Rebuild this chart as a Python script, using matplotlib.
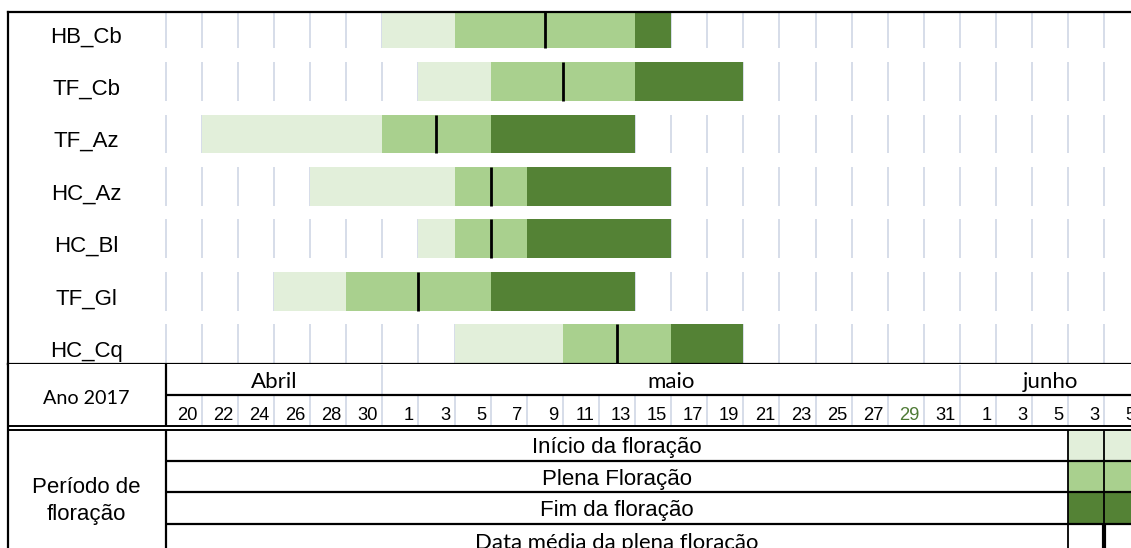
import numpy as np
import matplotlib.pyplot as plt
from matplotlib.transforms import blended_transform_factory

# flowering periods, in days counted from 20 April 2017 (one table column = 2 days)
locais = ['HB_Cb', 'TF_Cb', 'TF_Az', 'HC_Az', 'HC_Bl', 'TF_Gl', 'HC_Cq']
inicio = [12, 14, 2, 8, 14, 6, 16]      # início da floração
plena = [16, 18, 12, 16, 16, 10, 22]    # plena floração
fim = [26, 26, 18, 20, 20, 18, 28]      # fim da floração
termo = [28, 32, 26, 28, 28, 26, 32]    # last day
media = [21, 22, 15, 18, 18, 14, 25]    # data média da plena floração

meses = ['Abril', 'maio', 'junho']
abril_dias = [20, 22, 24, 26, 28, 30]
maio_dias = [1, 3, 5, 7, 9, 11, 13, 15, 17, 19, 21, 23, 25, 27, 29, 31]
junho_dias = [1, 3, 5]
extra_dias = [3, 5]
legenda = ['Início da floração', 'Plena Floração', 'Fim da floração',
           'Data média da plena floração']

c_ini = '#E2EFDA'
c_plena = '#A9D08E'
c_fim = '#548235'
c_grid = '#D0D7E5'

W, H = 1131, 548
X0, DX = 165.7, 18.05          # pixel of day 0, pixels per day
xlim = ((8 - X0) / DX, (W - X0) / DX)
ARIAL = 'Liberation Sans'
CALIBRI = 'Lato'

fig = plt.figure(figsize=(W / 100, H / 100), dpi=100)

# ---- chart ----
ax = fig.add_axes([8 / W, (H - 363.5) / H, (W - 8) / W, (363.5 - 12) / H])
ax.set_xlim(*xlim)
ax.set_ylim(6 + (363.5 - 343.65) / 52.46, -(29.12 - 12) / 52.46)
y = np.arange(len(locais))
bh = 0.738
cols = np.arange(0, 56, 2)
for i in y:
    ax.vlines(cols, i - bh / 2, i + bh / 2, color=c_grid, lw=1.2, zorder=1)

ax.barh(y, np.subtract(plena, inicio), left=inicio, height=bh, color=c_ini, zorder=2)
ax.barh(y, np.subtract(fim, plena), left=plena, height=bh, color=c_plena, zorder=2)
ax.barh(y, np.subtract(termo, fim), left=fim, height=bh, color=c_fim, zorder=2)
ax.vlines(media, y - bh / 2, y + bh / 2, color='black', lw=2.0, zorder=3)

tr = blended_transform_factory(ax.transAxes, ax.transData)
for i, nome in enumerate(locais):
    ax.text((86.5 - 8) / (W - 8), i + 0.25, nome, transform=tr, ha='center',
            va='baseline', fontsize=16, family=ARIAL)

ax.set_xticks([])
ax.set_yticks([])
ax.spines['right'].set_visible(False)
for s in ['top', 'left', 'bottom']:
    ax.spines[s].set_linewidth(1.6)

# ---- table below ----
tb = fig.add_axes([8 / W, 0, (W - 8) / W, (H - 363.5) / H])
tb.set_xlim(*xlim)
tb.set_ylim(H, 363.5)
tb.set_xticks([])
tb.set_yticks([])
for s in ['top', 'right', 'bottom']:
    tb.spines[s].set_visible(False)
tb.spines['left'].set_linewidth(1.6)

xl, xr = xlim
xc_left = xl + (86 - 8) / DX
tb.text(xc_left, 404, 'Ano 2017', ha='center', va='baseline',
        fontsize=14.2, family=CALIBRI)
tb.text(xc_left, 493, 'Período de', ha='center', va='baseline',
        fontsize=16, family=ARIAL)
tb.text(xc_left, 520, 'floração', ha='center', va='baseline',
        fontsize=16, family=ARIAL)

# month row
limites = [0, 12, 44, 54]
for k, m in enumerate(meses):
    tb.text((limites[k] + limites[k + 1]) / 2, 388, m, ha='center', va='baseline',
            fontsize=16, family=CALIBRI)
tb.vlines(limites[1:3], 365, 394, color=c_grid, lw=1.2)

# day row
dias = abril_dias + maio_dias + junho_dias + extra_dias
for k, d in enumerate(dias):
    cor = '#4F7B36' if (d == 29 and 6 <= k < 22) else 'black'
    tb.text(2 * (k + 1) - 4.5 / DX, 420, str(d), ha='right', va='baseline',
            fontsize=13.2, family=ARIAL, color=cor)
tb.vlines(cols[1:], 395.5, 425.5, color=c_grid, lw=1.2)

# borders
tb.hlines(394.5, 0, xr, color='black', lw=1.6)
tb.hlines([426, 430], xl, xr, color='black', lw=1.4)
tb.vlines(0, 363.5, 426, color='black', lw=1.6)
tb.vlines(0, 430, H, color='black', lw=1.6)
linhas = [430, 461, 492.3, 524.3, 556]
tb.hlines(linhas[1:4], 0, xr, color='black', lw=1.6)

# legend rows
for k, txt in enumerate(legenda):
    yc = (linhas[k] + linhas[k + 1]) / 2
    if k < 3:
        tb.text(25, yc + 8, txt, ha='center', va='baseline', fontsize=16, family=ARIAL)
    else:
        tb.text(25, yc + 9, txt, ha='center', va='baseline', fontsize=15.9, family=CALIBRI)
for k, c in enumerate([c_ini, c_plena, c_fim]):
    tb.bar([50, 52], linhas[k + 1] - linhas[k], bottom=linhas[k], width=2,
           align='edge', color=c, zorder=0)
tb.vlines(50, 430, H, color='black', lw=1.3)
tb.vlines(52, 430, 524.3, color='black', lw=1.3)
tb.vlines(52, 524.3, H, color='black', lw=3.0)

fig.savefig('out.png', dpi=100)
